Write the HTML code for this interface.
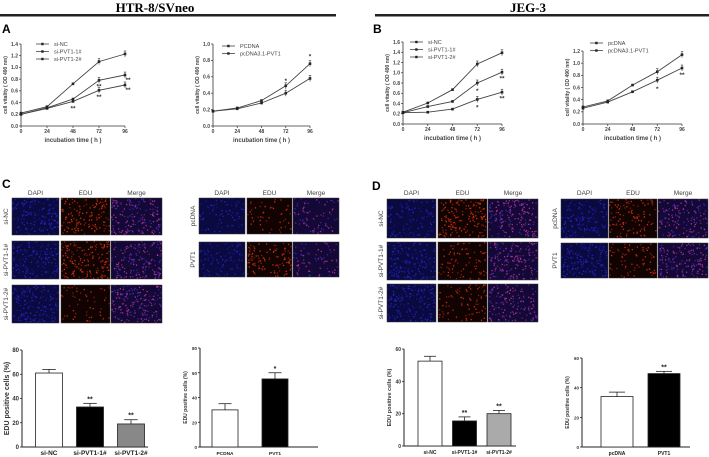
<!DOCTYPE html>
<html><head><meta charset="utf-8">
<style>
html,body{margin:0;padding:0;background:#fff;}
svg{display:block;font-family:"Liberation Sans",Arial,sans-serif;}
</style></head>
<body>
<svg id="fig" width="709" height="457" viewBox="0 0 709 457" xmlns="http://www.w3.org/2000/svg">
<rect width="709" height="457" fill="#fff"/>
<text x="155" y="12" text-anchor="middle" font-family="Liberation Serif,serif" font-weight="bold" font-size="13">HTR-8/SVneo</text>
<rect x="0" y="14" width="336" height="2.5" fill="#222"/>
<text x="528" y="12" text-anchor="middle" font-family="Liberation Serif,serif" font-weight="bold" font-size="13">JEG-3</text>
<rect x="375" y="14" width="334" height="2.5" fill="#222"/>
<text x="2" y="33" font-weight="bold" font-size="12">A</text>
<text x="373" y="33" font-weight="bold" font-size="12">B</text>
<text x="2" y="188" font-weight="bold" font-size="12">C</text>
<text x="372" y="190" font-weight="bold" font-size="12">D</text>
<g id="root"></g>
</svg>
<script>
// ---- line chart data ----
const timeCats = [0, 24, 48, 72, 96];
const a1NC = [0.22, 0.33, 0.72, 1.10, 1.23];
const a1P1 = [0.20, 0.31, 0.46, 0.78, 0.87];
const a1P2 = [0.20, 0.30, 0.42, 0.61, 0.70];
const a2PC = [0.18, 0.21, 0.28, 0.40, 0.58];
const a2PV = [0.18, 0.22, 0.31, 0.49, 0.76];
const b1NC = [0.23, 0.41, 0.67, 1.17, 1.39];
const b1P1 = [0.22, 0.34, 0.44, 0.80, 1.01];
const b1P2 = [0.22, 0.23, 0.29, 0.48, 0.62];
const b2PC = [0.28, 0.38, 0.64, 0.86, 1.14];
const b2PV = [0.26, 0.36, 0.53, 0.72, 0.92];
const a1Ticks = [0, 0.2, 0.4, 0.6, 0.8, 1.0, 1.2, 1.4];
const a2Ticks = [0, 0.2, 0.4, 0.6, 0.8, 1.0];
const b1Ticks = [0, 0.2, 0.4, 0.6, 0.8, 1.0, 1.2, 1.4, 1.6];
const b2Ticks = [0, 0.2, 0.4, 0.6, 0.8, 1.0, 1.2];
// ---- bar chart data ----
const cCats = ["si-NC", "si-PVT1-1#", "si-PVT1-2#"];
const cVals = [61, 33, 19];
const cErr = [3, 3, 3.5];
const cSig = ["", "**", "**"];
const c2Cats = ["PCDNA", "PVT1"];
const c2Vals = [30, 55];
const c2Err = [5, 5];
const c2Sig = ["", "*"];
const dCats = ["si-NC", "si-PVT1-1#", "si-PVT1-2#"];
const dVals = [52.5, 15.5, 20];
const dErr = [3, 2.5, 2];
const dSig = ["", "**", "**"];
const d2Cats = ["pcDNA", "PVT1"];
const d2Vals = [34, 49.5];
const d2Err = [3, 1.5];
const d2Sig = ["", "**"];
const cTicks = [0, 20, 40, 60, 80];
const dTicks = [0, 20, 40, 60];

const NS = "http://www.w3.org/2000/svg";
const root = document.getElementById('root');
function mk(tag, attrs, parent, txt) {
  const e = document.createElementNS(NS, tag);
  for (const k in attrs) e.setAttribute(k, attrs[k]);
  if (txt !== undefined) e.textContent = txt;
  (parent || root).appendChild(e);
  return e;
}

function lineChart(name, c, ticks, series, legend, stars) {
  const g = mk('g', {});
  
  
  const ymax = ticks[ticks.length - 1];
  const X = v => c.x0 + (v / 96) * (c.x1 - c.x0);
  const Y = v => c.y0 - (v / ymax) * (c.y0 - c.yT);
  const ax = mk('path', {d: `M${c.x0},${c.yT} V${c.y0} H${c.x1}`, stroke: '#333', fill: 'none', 'stroke-width': 0.8}, g);
  
  
  ticks.forEach(t => {
    mk('line', {x1: c.x0 - 2, x2: c.x0, y1: Y(t), y2: Y(t), stroke: '#333', 'stroke-width': 0.7}, g);
    const tl = mk('text', {x: c.x0 - 3, y: Y(t) + 1.8, 'text-anchor': 'end', 'font-size': 5, 'font-weight': 'bold', fill: '#444'}, g, t.toFixed(1));
    
    
  });
  timeCats.forEach(t => {
    mk('line', {x1: X(t), x2: X(t), y1: c.y0, y2: c.y0 + 2, stroke: '#333', 'stroke-width': 0.7}, g);
    const tl = mk('text', {x: X(t), y: c.y0 + 7, 'text-anchor': 'middle', 'font-size': 5, 'font-weight': 'bold', fill: '#444'}, g, t);
    
    
  });
  const xt = mk('text', {x: (c.x0 + c.x1) / 2, y: c.y0 + 16, 'text-anchor': 'middle', 'font-size': 6, 'font-weight': 'bold', fill: '#444'}, g, 'incubation  time ( h )');
  
  
  const yc = (c.y0 + c.yT) / 2;
  const yt = mk('text', {x: c.x0 - 14, y: yc, transform: `rotate(-90 ${c.x0 - 14} ${yc})`, 'text-anchor': 'middle', 'font-size': 5, 'font-weight': 'bold', fill: '#444'}, g, 'cell vitality ( OD 490 nm)');
  
  
  series.forEach((s, si) => {
    const d = s.map((v, i) => (i ? 'L' : 'M') + X(timeCats[i]).toFixed(1) + ',' + Y(v).toFixed(1)).join(' ');
    const p = mk('path', {d, stroke: '#444', fill: 'none', 'stroke-width': 0.9}, g);
    
    
    s.forEach((v, i) => {
      const m = mk('rect', {x: X(timeCats[i]) - 1.3, y: Y(v) - 1.3, width: 2.6, height: 2.6, fill: '#222'}, g);
      
      
      if (i >= 3) {
        mk('line', {x1: X(timeCats[i]), x2: X(timeCats[i]), y1: Y(v) - 3, y2: Y(v) + 3, stroke: '#333', 'stroke-width': 0.6}, g);
        mk('line', {x1: X(timeCats[i]) - 1.2, x2: X(timeCats[i]) + 1.2, y1: Y(v) - 3, y2: Y(v) - 3, stroke: '#333', 'stroke-width': 0.6}, g);
      }
    });
  });
  legend.forEach((l, i) => {
    const ly = c.ly + i * 7.5;
    mk('line', {x1: c.lx, x2: c.lx + 13, y1: ly, y2: ly, stroke: '#444', 'stroke-width': 0.8}, g);
    mk('rect', {x: c.lx + 5.2, y: ly - 1.2, width: 2.4, height: 2.4, fill: '#222'}, g);
    const lt = mk('text', {x: c.lx + 18, y: ly + 2, 'font-size': 5.5, fill: '#444'}, g, l);
    
    
  });
  stars.forEach(st => {
    const s = mk('text', {x: X(st[0]) + (st[3] || 0), y: Y(st[1]) + 3, 'text-anchor': 'middle', 'font-size': 6.5, 'font-weight': 'bold', fill: '#333'}, g, st[2]);
    
    
  });
}

lineChart('chart-a-knockdown', {x0: 21, x1: 125, y0: 126, yT: 44, lx: 36, ly: 44}, a1Ticks,
  [a1NC, a1P1, a1P2], ['si-NC', 'si-PVT1-1#', 'si-PVT1-2#'],
  [[48, a1P2[2] - 0.1, '**'], [72, a1P1[3] - 0.09, '**'], [72, a1P2[3] - 0.1, '**'], [96, a1P1[4] - 0.07, '**', 3], [96, a1P2[4] - 0.07, '**', 3]]);
lineChart('chart-a-overexpression', {x0: 213, x1: 310, y0: 126, yT: 44, lx: 222, ly: 46}, a2Ticks,
  [a2PC, a2PV], ['PCDNA', 'pcDNA3.1-PVT1'],
  [[72, a2PV[3] + 0.07, '*'], [96, a2PV[4] + 0.1, '*']]);
lineChart('chart-b-knockdown', {x0: 403, x1: 502, y0: 124, yT: 42, lx: 410, ly: 42}, b1Ticks,
  [b1NC, b1P1, b1P2], ['si-NC', 'si-PVT1-1#', 'si-PVT1-2#'],
  [[72, b1P1[3] - 0.14, '*'], [72, b1P2[3] - 0.14, '*'], [96, b1P1[4] - 0.1, '**'], [96, b1P2[4] - 0.1, '**']]);
lineChart('chart-b-overexpression', {x0: 583, x1: 682, y0: 124, yT: 51, lx: 590, ly: 43}, b2Ticks,
  [b2PC, b2PV], ['pcDNA', 'pcDNA3.1-PVT1'],
  [[72, b2PV[3] - 0.13, '*'], [96, b2PV[4] - 0.1, '**']]);

function barChart(name, c, ticks, cats, vals, errs, sigs, fills) {
  const g = mk('g', {});
  
  
  const ymax = ticks[ticks.length - 1];
  const Y = v => c.y0 - (v / ymax) * (c.y0 - c.yT);
  const ax = mk('path', {d: `M${c.x0},${c.yT} V${c.y0} H${c.xe}`, stroke: '#222', fill: 'none', 'stroke-width': 1}, g);
  
  
  ticks.forEach(t => {
    mk('line', {x1: c.x0 - 2, x2: c.x0, y1: Y(t), y2: Y(t), stroke: '#222', 'stroke-width': 0.8}, g);
    const tl = mk('text', {x: c.x0 - 3, y: Y(t) + 2, 'text-anchor': 'end', 'font-size': c.fs, 'font-weight': 'bold', fill: '#333'}, g, t);
    
    
  });
  const yc = (c.y0 + c.yT) / 2;
  const yt = mk('text', {x: c.x0 - 13, y: yc, transform: `rotate(-90 ${c.x0 - 13} ${yc})`, 'text-anchor': 'middle', 'font-size': c.tfs, 'font-weight': 'bold', fill: '#333'}, g, 'EDU positive  cells (%)');
  
  
  cats.forEach((cat, i) => {
    const cx = c.bx + i * c.gap;
    const w = c.bw;
    const b = mk('rect', {x: cx - w / 2, y: Y(vals[i]), width: w, height: c.y0 - Y(vals[i]), fill: fills[i], stroke: '#222', 'stroke-width': 0.8}, g);
    
    
    const et = Y(vals[i] + errs[i]);
    mk('line', {x1: cx, x2: cx, y1: Y(vals[i]), y2: et, stroke: '#222', 'stroke-width': 0.8}, g);
    mk('line', {x1: cx - w / 4, x2: cx + w / 4, y1: et, y2: et, stroke: '#222', 'stroke-width': 0.8}, g);
    if (sigs[i]) {
      const s = mk('text', {x: cx, y: et - 2, 'text-anchor': 'middle', 'font-size': 7, 'font-weight': 'bold', fill: '#222'}, g, sigs[i]);
      
      
    }
    const xl = mk('text', {x: cx, y: c.y0 + 8, 'text-anchor': 'middle', 'font-size': c.xfs, 'font-weight': 'bold', fill: '#222'}, g, cat);
    
    
  });
}
barChart('chart-c-knockdown-edu', {x0: 22, xe: 148, y0: 447, yT: 350, bx: 49, gap: 41, bw: 27, fs: 6, tfs: 7, xfs: 6.5}, cTicks, cCats, cVals, cErr, cSig, ['#fff', '#000', '#888']);
barChart('chart-c-overexpression-edu', {x0: 200, xe: 318, y0: 447, yT: 348, bx: 225, gap: 50, bw: 26, fs: 4.5, tfs: 5, xfs: 4.8}, cTicks, c2Cats, c2Vals, c2Err, c2Sig, ['#fff', '#000']);
barChart('chart-d-knockdown-edu', {x0: 404, xe: 516, y0: 446, yT: 349, bx: 430, gap: 34.5, bw: 24, fs: 5, tfs: 5.5, xfs: 5}, dTicks, dCats, dVals, dErr, dSig, ['#fff', '#000', '#aaa']);
barChart('chart-d-overexpression-edu', {x0: 582, xe: 690, y0: 447, yT: 358, bx: 617, gap: 47, bw: 32, fs: 4.5, tfs: 5, xfs: 5}, dTicks, d2Cats, d2Vals, d2Err, d2Sig, ['#fff', '#000']);

// ---- decorative microscopy images ----
let seed = 12345;
function rnd() { seed = (seed * 1103515245 + 12345) & 0x7fffffff; return seed / 0x7fffffff; }
function micro(name, x, y, w, h, type, density) {
  const g = mk('g', {});
  
  
  const bg = {dapi: '#0a0a40', edu: '#120303', merge: '#140836'}[type];
  mk('rect', {x, y, width: w, height: h, fill: bg}, g);
  const n = Math.round(w * h * density / 70);
  for (let i = 0; i < n; i++) {
    const px = x + rnd() * (w - 1.3), py = y + rnd() * (h - 1.3);
    let col;
    if (type === 'dapi') col = rnd() < 0.5 ? '#2424b8' : '#16168a';
    else if (type === 'edu') col = rnd() < 0.5 ? '#c8300c' : '#861a08';
    else col = rnd() < 0.4 ? '#a83090' : (rnd() < 0.5 ? '#3024a8' : '#66247a');
    mk('rect', {x: px.toFixed(1), y: py.toFixed(1), width: 1.3, height: 1.3, fill: col}, g);
  }
  mk('rect', {x, y, width: w, height: h, fill: 'none', stroke: '#333', 'stroke-width': 0.5}, g);
}
function grid(prefix, xs, ws, ys, hs, rows, dens, hdrY) {
  ['DAPI', 'EDU', 'Merge'].forEach((hd, ci) => {
    const t = mk('text', {x: xs[ci] + ws[ci] / 2, y: hdrY, 'text-anchor': 'middle', 'font-size': 6.5, fill: '#444'}, root, hd);
    
    
  });
  rows.forEach((r, ri) => {
    const cy = ys[ri] + hs[ri] / 2, lx = xs[0] - 4;
    const t = mk('text', {x: lx, y: cy, transform: `rotate(-90 ${lx} ${cy})`, 'text-anchor': 'middle', 'font-size': 6.5, fill: '#444'}, root, r);
    
    
    ['dapi', 'edu', 'merge'].forEach((ty, ci) => micro(prefix + '-' + ty + '-image', xs[ci], ys[ri], ws[ci], hs[ri], ty, dens[ri][ci]));
  });
}
grid('c-knockdown', [12, 61, 111], [47, 49, 51], [198, 241, 285], [37, 38, 38], ['si-NC', 'si-PVT1-1#', 'si-PVT1-2#'], [[6, 5, 6], [6, 6, 6], [6, 2, 6]], 195);
grid('c-overexpression', [199, 247, 293], [46, 45, 46], [198, 242], [36, 35], ['pcDNA', 'PVT1'], [[3, 2, 3], [4, 5, 3]], 195);
grid('d-knockdown', [387, 438, 488], [49, 49, 50], [199, 242, 284], [39, 38, 38], ['si-NC', 'si-PVT1-1#', 'si-PVT1-2#'], [[4, 6, 6], [6, 3, 6], [6, 3, 5]], 195);
grid('d-overexpression', [561, 609, 658], [47, 48, 50], [199, 243], [39, 35], ['pcDNA', 'PVT1'], [[5, 4, 5], [6, 3, 6]], 195);
</script>
</body></html>
